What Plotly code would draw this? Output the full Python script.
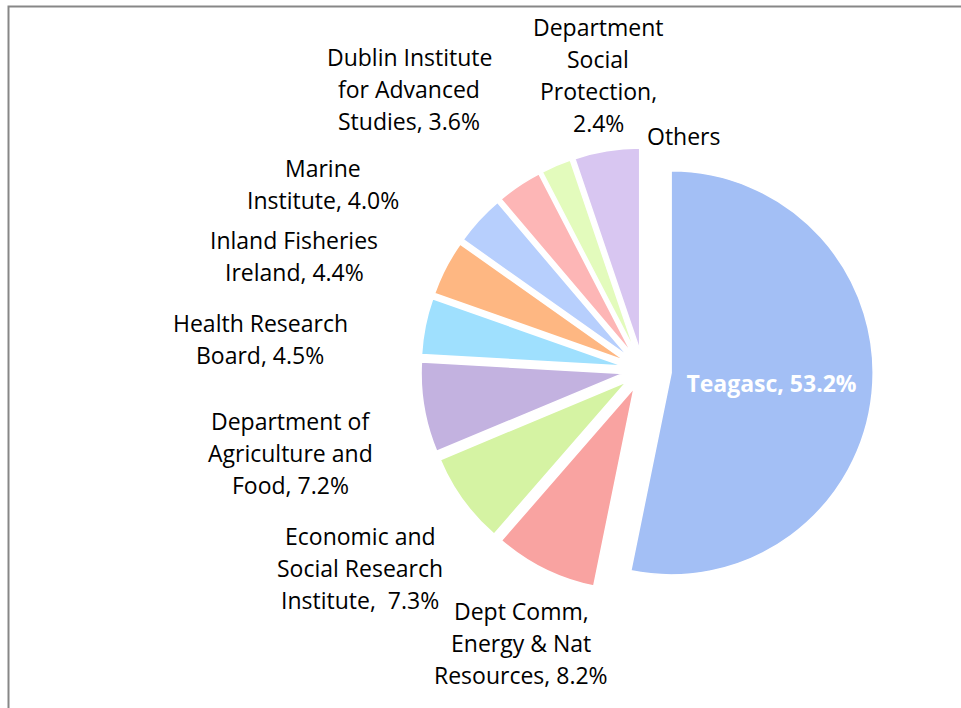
import plotly.graph_objects as go

W, H = 961, 708

categories = [
    "Teagasc",
    "Dept Comm, Energy & Nat Resources",
    "Economic and Social Research Institute",
    "Department of Agriculture and Food",
    "Health Research Board",
    "Inland Fisheries Ireland",
    "Marine Institute",
    "Dublin Institute for Advanced Studies",
    "Department Social Protection",
    "Others",
]
values = [53.2, 8.2, 7.3, 7.2, 4.5, 4.4, 4.0, 3.6, 2.4, 5.2]

# label text lines (as shown on chart)
label_lines = [
    ["Teagasc, 53.2%"],
    ["Dept Comm,", "Energy & Nat", "Resources, 8.2%"],
    ["Economic and", "Social Research", "Institute,  7.3%"],
    ["Department of", "Agriculture and", "Food, 7.2%"],
    ["Health Research", "Board, 4.5%"],
    ["Inland Fisheries", "Ireland, 4.4%"],
    ["Marine", "Institute, 4.0%"],
    ["Dublin Institute", "for Advanced", "Studies, 3.6%"],
    ["Department", "Social", "Protection,", "2.4%"],
    ["Others"],
]

colors = ["#A3BFF5", "#F9A3A1", "#D5F3A3", "#C3B2E0", "#9FE0FE",
          "#FEB782", "#B7CFFD", "#FDB6B6", "#E3FBBC", "#D8C6F1"]
pulls = [0.14, 0.10, 0.10, 0.10, 0.10, 0.10, 0.10, 0.10, 0.10, 0.10]

# label block centres in pixels (outside labels)
label_pos = [
    None,
    (521, 643), (360, 568), (290, 453), (260, 339), (294, 256),
    (323, 184), (409, 89), (598, 75), (683, 136),
]

FONT = "Open Sans"
FS = 23
LINE = 32

cx, cy, r = 643, 370, 202
half = r * (1 + max(pulls))

fig = go.Figure(go.Pie(
    labels=categories,
    values=values,
    sort=False,
    direction="clockwise",
    rotation=0,
    pull=pulls,
    marker=dict(colors=colors, line=dict(color="white", width=1.5)),
    text=[label_lines[0][0]] + [""] * (len(values) - 1),
    textinfo="text",
    textposition="inside",
    insidetextorientation="horizontal",
    insidetextfont=dict(family=FONT, size=FS, color="white", weight="bold"),
    hoverinfo="label+percent",
    domain=dict(x=[(cx - half) / W, (cx + half) / W],
                y=[1 - (cy + half) / H, 1 - (cy - half) / H]),
    showlegend=False,
))

annotations = []
for lines, pos in zip(label_lines, label_pos):
    if pos is None:
        continue
    n = len(lines)
    for i, ln in enumerate(lines):
        annotations.append(dict(
            x=pos[0] / W, y=1 - pos[1] / H, xref="paper", yref="paper",
            text=ln, showarrow=False, xanchor="center", yanchor="middle",
            yshift=-(i - (n - 1) / 2) * LINE,
            font=dict(family=FONT, size=FS, color="black"),
        ))

fig.update_layout(
    width=W, height=H,
    margin=dict(l=0, r=0, t=0, b=0),
    paper_bgcolor="white",
    plot_bgcolor="white",
    annotations=annotations,
    shapes=[dict(type="rect", xref="paper", yref="paper",
                 x0=8.5 / W, x1=1.1, y0=-0.1, y1=1 - 6.5 / H,
                 line=dict(color="#878787", width=2))],
)

fig.write_html("out.html",
               config={"displayModeBar": False},
               post_script="document.body.style.margin='0px';document.body.style.overflow='hidden';")
